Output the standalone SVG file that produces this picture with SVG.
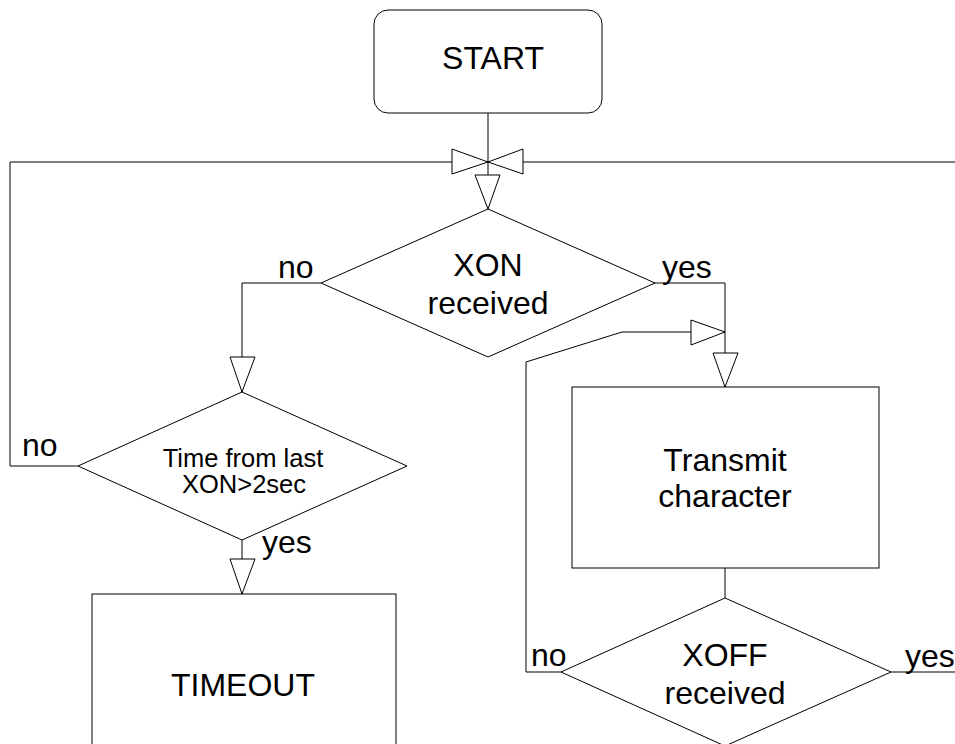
<svg xmlns="http://www.w3.org/2000/svg" width="955" height="744" viewBox="0 0 955 744">
<style>
.shape{fill:#fff;stroke:#000;stroke-width:1}
.line{fill:none;stroke:#000;stroke-width:1}
.arrow{fill:#fff;stroke:#000;stroke-width:1}
text{font-family:"Liberation Sans",Arial,sans-serif;fill:#000}
.big{font-size:32px}
.mid{font-size:25.5px}
.c{text-anchor:middle}
</style>
<rect width="955" height="744" fill="#fff"/>
<g id="connectors">
<polyline class="line" points="488,113 488,209"/>
<polyline class="line" points="10,162 955,162"/>
<polyline class="line" points="78,466 10,466 10,162"/>
<polyline class="line" points="652,283 725,283 725,387"/>
<polyline class="line" points="321,283 242,283 242,392"/>
<polyline class="line" points="242,540 242,594"/>
<polyline class="line" points="725,568 725,598"/>
<polyline class="line" points="561,672 526,672 526,362 622,332 725,332"/>
<polyline class="line" points="891,672 955,672"/>
<polygon class="arrow" points="452,149 452,174 488,162"/>
<polygon class="arrow" points="523,149 523,174 488,162"/>
<polygon class="arrow" points="475,175 500,175 488,209"/>
<polygon class="arrow" points="691,320 691,345 725,332"/>
<polygon class="arrow" points="713,353 738,353 725,387"/>
<polygon class="arrow" points="230,357 255,357 242,392"/>
<polygon class="arrow" points="230,559 255,559 242,594"/>
<text class="big" x="278" y="278">no</text>
<text class="big" x="662" y="278">yes</text>
<text class="big" x="22" y="456">no</text>
<text class="big" x="262" y="553">yes</text>
<text class="big" x="531" y="666">no</text>
<text class="big" x="905" y="667">yes</text>
</g>
<g id="start">
<rect class="shape" x="374" y="10" width="228" height="103" rx="14"/>
<text class="big c" x="493" y="69">START</text>
</g>
<g id="xon">
<polygon class="shape" points="488,209 655,283 488,357 321,283"/>
<text class="big c" x="488" y="276">XON</text>
<text class="big c" x="488" y="314">received</text>
</g>
<g id="timecheck">
<polygon class="shape" points="242,392 407,466 242,540 78,466"/>
<text class="mid c" x="243" y="467">Time from last</text>
<text class="mid c" x="244" y="493">XON&gt;2sec</text>
</g>
<g id="timeout">
<rect class="shape" x="92" y="594" width="304" height="170"/>
<text class="big c" x="243" y="696">TIMEOUT</text>
</g>
<g id="transmit">
<rect class="shape" x="572" y="387" width="307" height="181"/>
<text class="big c" x="725" y="471">Transmit</text>
<text class="big c" x="725" y="507">character</text>
</g>
<g id="xoff">
<polygon class="shape" points="725,598 891,672 725,746 561,672"/>
<text class="big c" x="725" y="666">XOFF</text>
<text class="big c" x="725" y="704">received</text>
</g>
</svg>
